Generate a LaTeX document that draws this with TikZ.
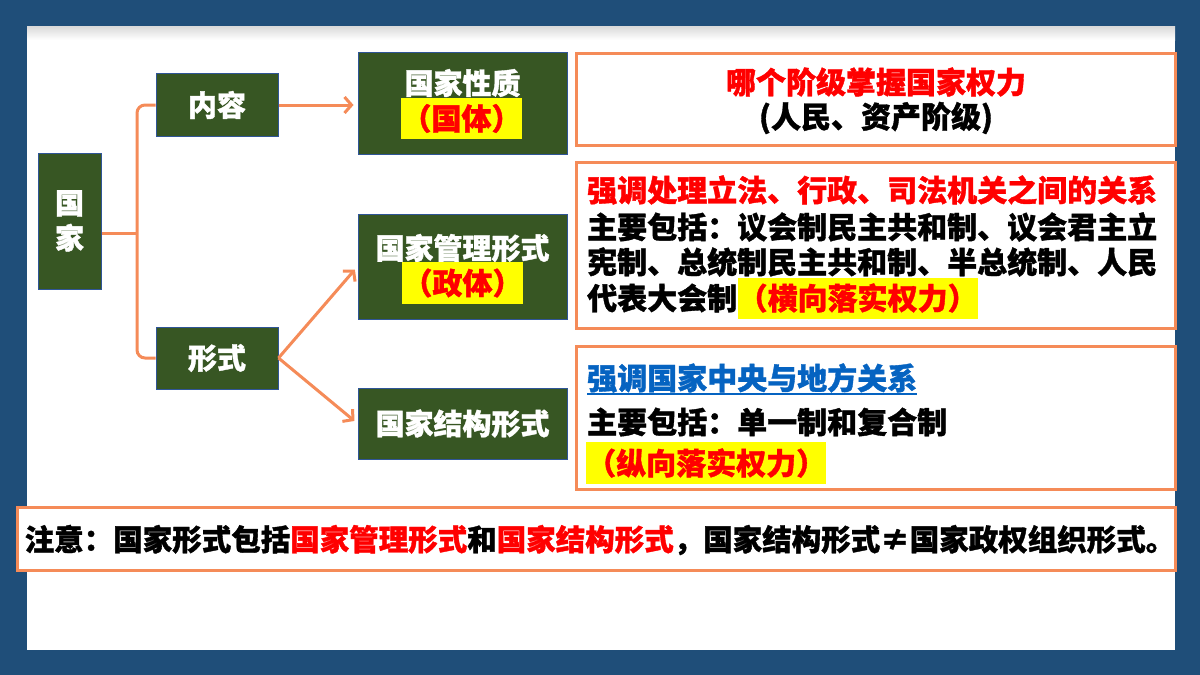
\documentclass[tikz,border=0pt]{standalone}
\usepackage{fontspec}
\setmainfont{Noto Sans CJK SC}[BoldFeatures={FakeBold=1.2}]
\usetikzlibrary{arrows.meta}
\definecolor{bgblue}{RGB}{31,78,121}
\definecolor{gbox}{RGB}{55,86,35}
\definecolor{gedge}{RGB}{47,85,151}
\definecolor{orng}{RGB}{245,139,88}
\definecolor{rd}{RGB}{255,0,0}
\definecolor{bl}{RGB}{5,99,193}
\definecolor{yl}{RGB}{255,255,0}
\newcommand\myfs[1]{\fontsize{#1}{#1}\selectfont}
\begin{document}
\begin{tikzpicture}[x=1pt,y=-1pt,
  gnode/.style={draw=gedge, line width=1pt, fill=gbox, inner sep=0pt, text=white, font=\bfseries\myfs{29}},
  obox/.style={draw=orng, line width=3pt, fill=white, inner sep=0pt},
  conn/.style={draw=orng, line width=3pt},
  arr/.style={conn, -{Straight Barb[length=7pt,width=16pt]}, shorten >=4pt},
  txt/.style={inner sep=0pt, font=\bfseries\myfs{30}},
  hl/.style={txt, fill=yl, text=rd}]
\useasboundingbox (0,0) rectangle (1200,675);
\fill[bgblue] (0,0) rectangle (1200,675);
\fill[white] (27,26) rectangle (1175,650);
\shade[top color=black!15, bottom color=white] (27,26) rectangle (1175,40);

% left tree nodes
\node[gnode, minimum width=63pt, minimum height=136pt, align=center, font=\bfseries\fontsize{29}{35}\selectfont] (guojia) at (69.5,221) {国\\家};
\node[gnode, minimum width=122pt, minimum height=63pt] (neirong) at (217,105) {内容};
\node[gnode, minimum width=122pt, minimum height=62pt] (xingshi) at (217,358) {形式};

\node[gnode, minimum width=209pt, minimum height=102pt] (xingzhi) at (462.5,103) {};
\node[txt, text=white, font=\bfseries\myfs{29}] (xzt) at (462.5,83) {国家性质};
\node[hl, minimum width=121pt, minimum height=41pt] (guoti) at (461.5,118.5) {（国体）};

\node[gnode, minimum width=209pt, minimum height=105pt] (guanli) at (462.5,266.5) {};
\node[txt, text=white, font=\bfseries\myfs{29}] (glt) at (462.5,248) {国家管理形式};
\node[hl, minimum width=121pt, minimum height=42pt] (zhengti) at (462.5,283) {（政体）};

\node[gnode, minimum width=209pt, minimum height=71pt] (jiegou) at (462.5,423.5) {国家结构形式};

% connectors
\coordinate (bx) at (137,233);
\draw[conn] (guojia.east |- bx) -- (bx);
\draw[conn, rounded corners=8pt] (neirong.west) -- (neirong.west -| bx) -- (xingshi.west -| bx) -- (xingshi.west);
\draw[arr] (neirong.east) -- (neirong.east -| xingzhi.west);
\draw[arr] (xingshi.east) -- (guanli.west);
\draw[arr] (xingshi.east) -- (jiegou.west);

% right boxes
\node[obox, minimum width=599pt, minimum height=92pt] (box1) at (875.5,99) {};
\node[txt, text=rd] (b1l1) at (876,82) {哪个阶级掌握国家权力};
\node[txt] (b1l2) at (876,118) {(人民、资产阶级)};

\node[obox, minimum width=599pt, minimum height=166pt] (box2) at (875.5,245) {};
\node[txt, text=rd, anchor=west] (b2l1) at (587,190) {强调处理立法、行政、司法机关之间的关系};
\node[txt, anchor=west] (b2l2) at (587,227) {主要包括：议会制民主共和制、议会君主立};
\node[txt, anchor=west] (b2l3) at (587,262) {宪制、总统制民主共和制、半总统制、人民};
\node[txt, anchor=west] (b2l4) at (587,298) {代表大会制};
\node[hl, anchor=west, minimum height=41pt] (hx) at (b2l4.east) {（横向落实权力）};

\node[obox, minimum width=599pt, minimum height=143pt] (box3) at (875.5,417.5) {};
\node[txt, text=bl, anchor=west] (b3l1) at (587,378) {强调国家中央与地方关系};
\draw[bl, line width=1.5pt] ([yshift=-1pt]b3l1.south west) -- ([yshift=-1pt]b3l1.south east);
\node[txt, anchor=west] (b3l2) at (587,422) {主要包括：单一制和复合制};
\node[hl, anchor=west, minimum height=42pt] (zx) at (586,463) {（纵向落实权力）};

% bottom note
\node[obox, minimum width=1158pt, minimum height=63pt] (note) at (596,538.5) {};
\node[txt, font=\bfseries\myfs{29.5}] (notet) at (600,540) {注意：国家形式包括\textcolor{rd}{国家管理形式}和\textcolor{rd}{国家结构形式}，国家结构形式≠国家政权组织形式。};
\end{tikzpicture}
\end{document}
